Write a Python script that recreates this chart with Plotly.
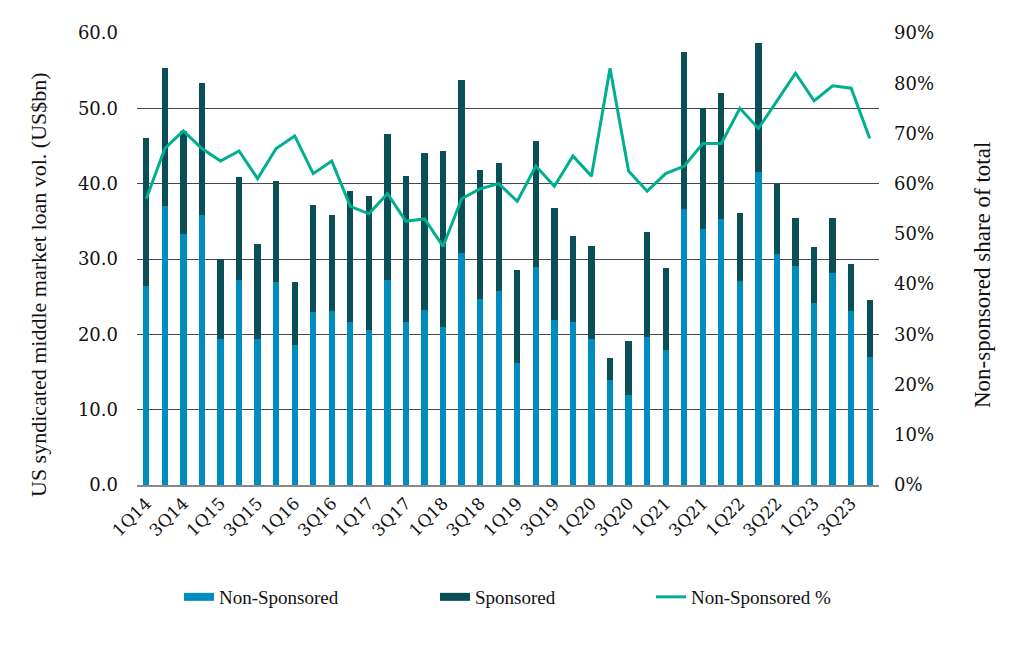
import plotly.graph_objects as go

quarters = [f"{q}Q{y}" for y in range(14, 24) for q in range(1, 5)]

total = [46.1, 55.3, 47.0, 53.4, 30.0, 40.9, 32.0, 40.3, 27.0, 37.2,
         35.8, 39.0, 38.4, 46.6, 41.0, 44.1, 44.3, 53.7, 41.8, 42.7,
         28.6, 45.6, 36.8, 33.1, 31.7, 16.9, 19.1, 33.6, 28.8, 57.5,
         50.0, 52.0, 36.1, 58.7, 40.0, 35.4, 31.6, 35.5, 29.4, 24.6]

non_sponsored = [26.4, 37.1, 33.3, 35.8, 19.4, 27.2, 19.4, 27.0, 18.6, 22.9,
                 23.1, 21.6, 20.6, 27.2, 21.6, 23.2, 21.0, 30.8, 24.7, 25.8,
                 16.2, 29.0, 21.9, 21.7, 19.4, 14.0, 11.9, 19.6, 17.9, 36.6,
                 34.0, 35.3, 27.1, 41.6, 30.6, 29.1, 24.2, 28.1, 23.1, 17.0]

sponsored = [round(t - n, 1) for t, n in zip(total, non_sponsored)]

non_sponsored_pct = [57.0, 67.0, 70.5, 67.0, 64.5, 66.5, 61.0, 67.0, 69.5, 62.0,
                     64.5, 55.5, 54.0, 58.0, 52.5, 53.0, 47.5, 57.0, 59.0, 60.0,
                     56.5, 63.5, 59.5, 65.5, 61.5, 83.0, 62.5, 58.5, 62.0, 63.5,
                     68.0, 68.0, 75.0, 71.0, 76.5, 82.0, 76.5, 79.5, 79.0, 69.0]

tick_labels = quarters[::2]

BLUE = "#008CBF"
DARK = "#0A4F55"
GREEN = "#00AF8F"
SERIF = "Liberation Serif"
TICKF = "DejaVu Serif"

fig = go.Figure()
fig.add_trace(go.Bar(x=quarters, y=non_sponsored, name="Non-Sponsored",
                     marker=dict(color=BLUE, line_width=0), showlegend=False))
fig.add_trace(go.Bar(x=quarters, y=sponsored, name="Sponsored",
                     marker=dict(color=DARK, line_width=0), showlegend=False))
fig.add_trace(go.Scatter(x=quarters, y=non_sponsored_pct, name="Non-Sponsored %",
                         mode="lines", line=dict(color=GREEN, width=3),
                         yaxis="y2", legend="legend3"))
# legend-only entries drawn as wide rectangles, like the reference key
fig.add_trace(go.Scatter(x=[None], y=[None], name="Non-Sponsored", mode="lines",
                         line=dict(color=BLUE, width=8), legend="legend"))
fig.add_trace(go.Scatter(x=[None], y=[None], name="Sponsored", mode="lines",
                         line=dict(color=DARK, width=8), legend="legend2"))

# page has an 8px body offset; target screen coords minus 8
OFF = 8
W, H = 1024, 646
L = 137 - OFF
T = 33 - OFF
R = W - (879 - OFF)
B = H - (485 - OFF)
pw, ph = W - L - R, H - T - B

def px_to_paper_x(px):
    return (px - OFF - L) / pw

def px_to_paper_y(py):
    return (H - B - (py - OFF)) / ph

leg_common = dict(orientation="h", xanchor="left", yanchor="middle",
                  font=dict(family=SERIF, size=19, color="#111"),
                  bgcolor="rgba(0,0,0,0)", itemwidth=30)

fig.update_layout(
    width=W, height=H,
    margin=dict(l=L, r=R, t=T, b=B),
    plot_bgcolor="white", paper_bgcolor="white",
    barmode="stack", bargap=0.66,
    showlegend=True,
    legend=dict(x=px_to_paper_x(179), y=px_to_paper_y(597), **leg_common),
    legend2=dict(x=px_to_paper_x(435), y=px_to_paper_y(597), **leg_common),
    legend3=dict(x=px_to_paper_x(651), y=px_to_paper_y(597), **leg_common),
    xaxis=dict(type="category", tickmode="array", tickvals=tick_labels,
               ticktext=tick_labels, tickangle=-45,
               tickfont=dict(family=TICKF, size=17, color="#111"),
               showgrid=False, showline=True, linecolor="#888", linewidth=1.5,
               ticks="", range=[-0.5, 39.5]),
    yaxis=dict(range=[0, 60], dtick=10, tickformat=".1f",
               tickfont=dict(family=TICKF, size=18, color="#111"),
               showgrid=True, gridcolor="#484848", gridwidth=1,
               zeroline=False, showline=False, ticks="", ticklen=0,
               ticklabelstandoff=18),
    yaxis2=dict(range=[0, 90], dtick=10, ticksuffix="%", overlaying="y",
                side="right", showgrid=False, zeroline=False, showline=False,
                tickfont=dict(family=TICKF, size=18, color="#111"),
                ticklabelstandoff=14),
    annotations=[
        dict(text="US syndicated middle market loan vol. (US$bn)", textangle=-90,
             xref="paper", yref="paper", x=px_to_paper_x(38), y=px_to_paper_y(285),
             xanchor="center", yanchor="middle", showarrow=False,
             font=dict(family=SERIF, size=22, color="#111")),
        dict(text="Non-sponsored share of total", textangle=-90,
             xref="paper", yref="paper", x=px_to_paper_x(982), y=px_to_paper_y(275),
             xanchor="center", yanchor="middle", showarrow=False,
             font=dict(family=SERIF, size=23, color="#111")),
    ],
)

fig.write_html("out.html")
